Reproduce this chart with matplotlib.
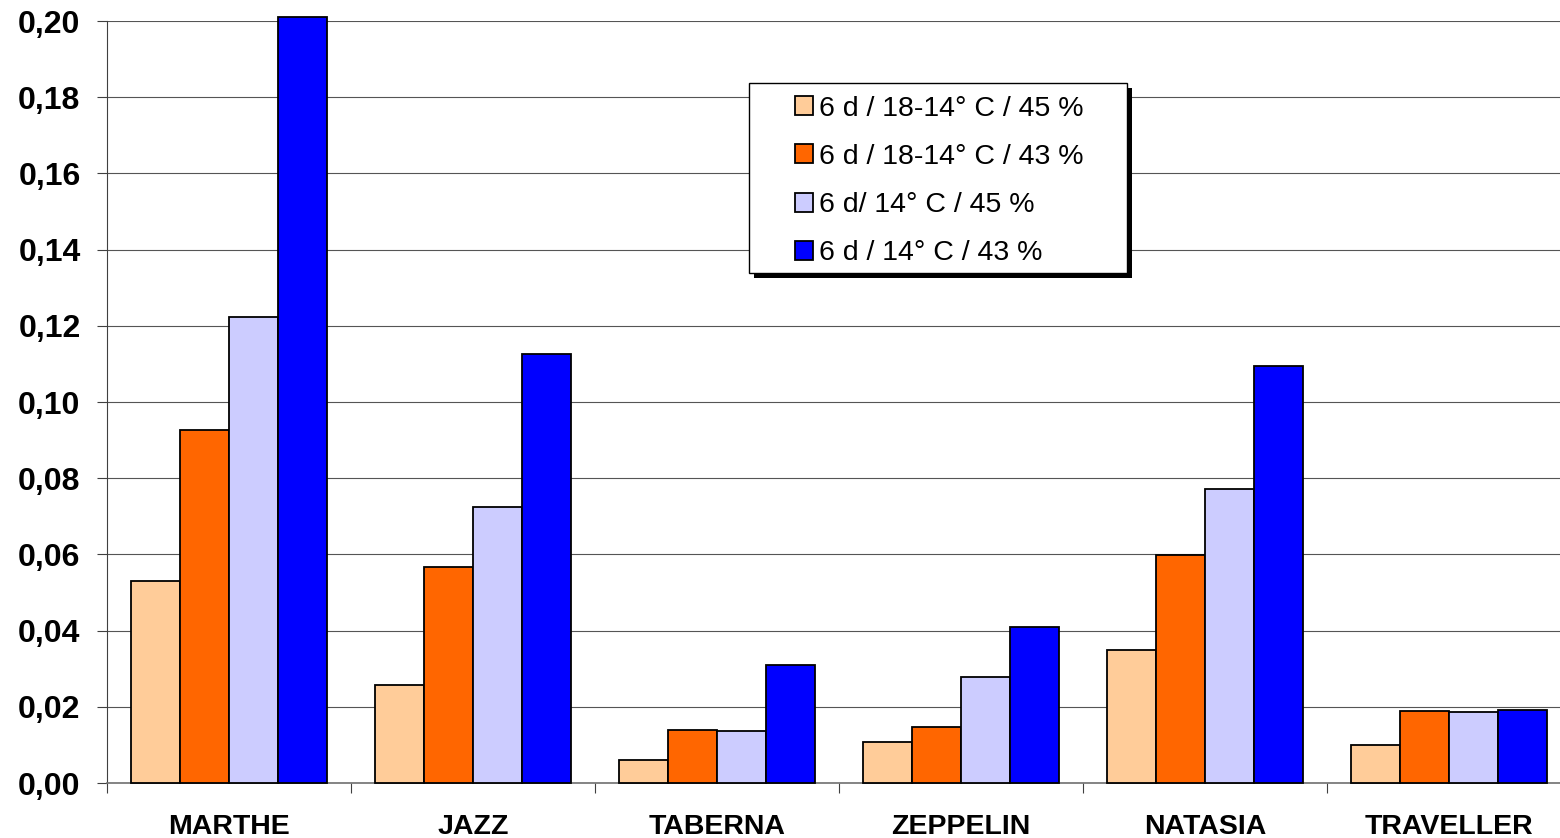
import matplotlib
matplotlib.use("Agg")
import matplotlib.pyplot as plt
from matplotlib.patches import Rectangle, Patch
from matplotlib.ticker import FixedLocator, FuncFormatter
import numpy as np

plt.rcParams['font.family'] = ['Liberation Sans', 'DejaVu Sans']

categories = ["MARTHE", "JAZZ", "TABERNA", "ZEPPELIN", "NATASIA", "TRAVELLER"]
series_labels = [
    "6 d / 18-14° C / 45 %",
    "6 d / 18-14° C / 43 %",
    "6 d/ 14° C / 45 %",
    "6 d / 14° C / 43 %",
]
s1 = [0.053, 0.0257, 0.0060, 0.0108, 0.0349, 0.0099]
s2 = [0.0927, 0.0567, 0.0139, 0.0147, 0.0598, 0.0189]
s3 = [0.1223, 0.0724, 0.0136, 0.0278, 0.0772, 0.0186]
s4 = [0.2010, 0.1126, 0.0310, 0.0410, 0.1094, 0.0192]
colors = ["#FFCC99", "#FF6600", "#CCCCFF", "#0000FF"]
y_ticks = [0.00, 0.02, 0.04, 0.06, 0.08, 0.10, 0.12, 0.14, 0.16, 0.18, 0.20]

W, H = 1560, 838
fig = plt.figure(figsize=(W / 100, H / 100), dpi=100)
ax = fig.add_axes([107 / W, 55 / H, (1571 - 107) / W, (783 - 21) / H])

x = np.arange(len(categories))
bw = 0.2
for j, vals in enumerate([s1, s2, s3, s4]):
    ax.bar(x + (j - 1.5) * bw, vals, width=bw, color=colors[j],
           edgecolor="black", linewidth=1.3, zorder=3, clip_on=False)

ax.set_xlim(-0.5, len(categories) - 0.5)
ax.set_ylim(0, 0.20)

ax.yaxis.set_major_locator(FixedLocator(y_ticks))
ax.yaxis.set_major_formatter(FuncFormatter(lambda v, p: f"{v:.2f}".replace(".", ",")))
ax.tick_params(axis="y", direction="out", length=7, width=0.8, color="#404040",
               pad=12, labelsize=23)
for lab in ax.get_yticklabels():
    lab.set_fontweight("bold")

ax.set_xticks(x)
ax.set_xticklabels(categories, fontsize=20.5, fontweight="bold")
ax.tick_params(axis="x", which="major", length=0, pad=22)
ax.set_xticks(np.arange(-0.5, len(categories) - 0.4, 1.0), minor=True)
ax.tick_params(axis="x", which="minor", direction="out", length=7, width=0.8,
               color="#404040")

ax.grid(axis="y", color="#555555", linewidth=0.8, zorder=0)
ax.set_axisbelow(True)
for side in ["top", "right"]:
    ax.spines[side].set_visible(False)
ax.spines["left"].set_color("#404040")
ax.spines["left"].set_linewidth(0.8)
ax.spines["bottom"].set_color("#707070")
ax.spines["bottom"].set_linewidth(1.2)

# legend box with solid drop shadow
bx0, by0, bw_px, bh_px = 749, 83, 378, 190
fig.patches.append(Rectangle(((bx0 + 5) / W, 1 - (by0 + bh_px + 5) / H),
                             bw_px / W, bh_px / H, transform=fig.transFigure,
                             facecolor="black", edgecolor="none", zorder=4))
fig.patches.append(Rectangle((bx0 / W, 1 - (by0 + bh_px) / H),
                             bw_px / W, bh_px / H, transform=fig.transFigure,
                             facecolor="white", edgecolor="black", linewidth=1.0,
                             zorder=4.5))
handles = [Patch(facecolor=c, edgecolor="black", linewidth=1.3) for c in colors]
leg = fig.legend(handles, series_labels, loc="center",
                 bbox_to_anchor=((bx0 + bw_px / 2 + 1) / W, 1 - (by0 + bh_px / 2 + 3) / H),
                 frameon=False, fontsize=20.5, handlelength=0.65, handleheight=0.65,
                 handletextpad=0.18, labelspacing=0.78, borderpad=0.2)
leg.set_zorder(5)

fig.savefig("out.png", dpi=100)
